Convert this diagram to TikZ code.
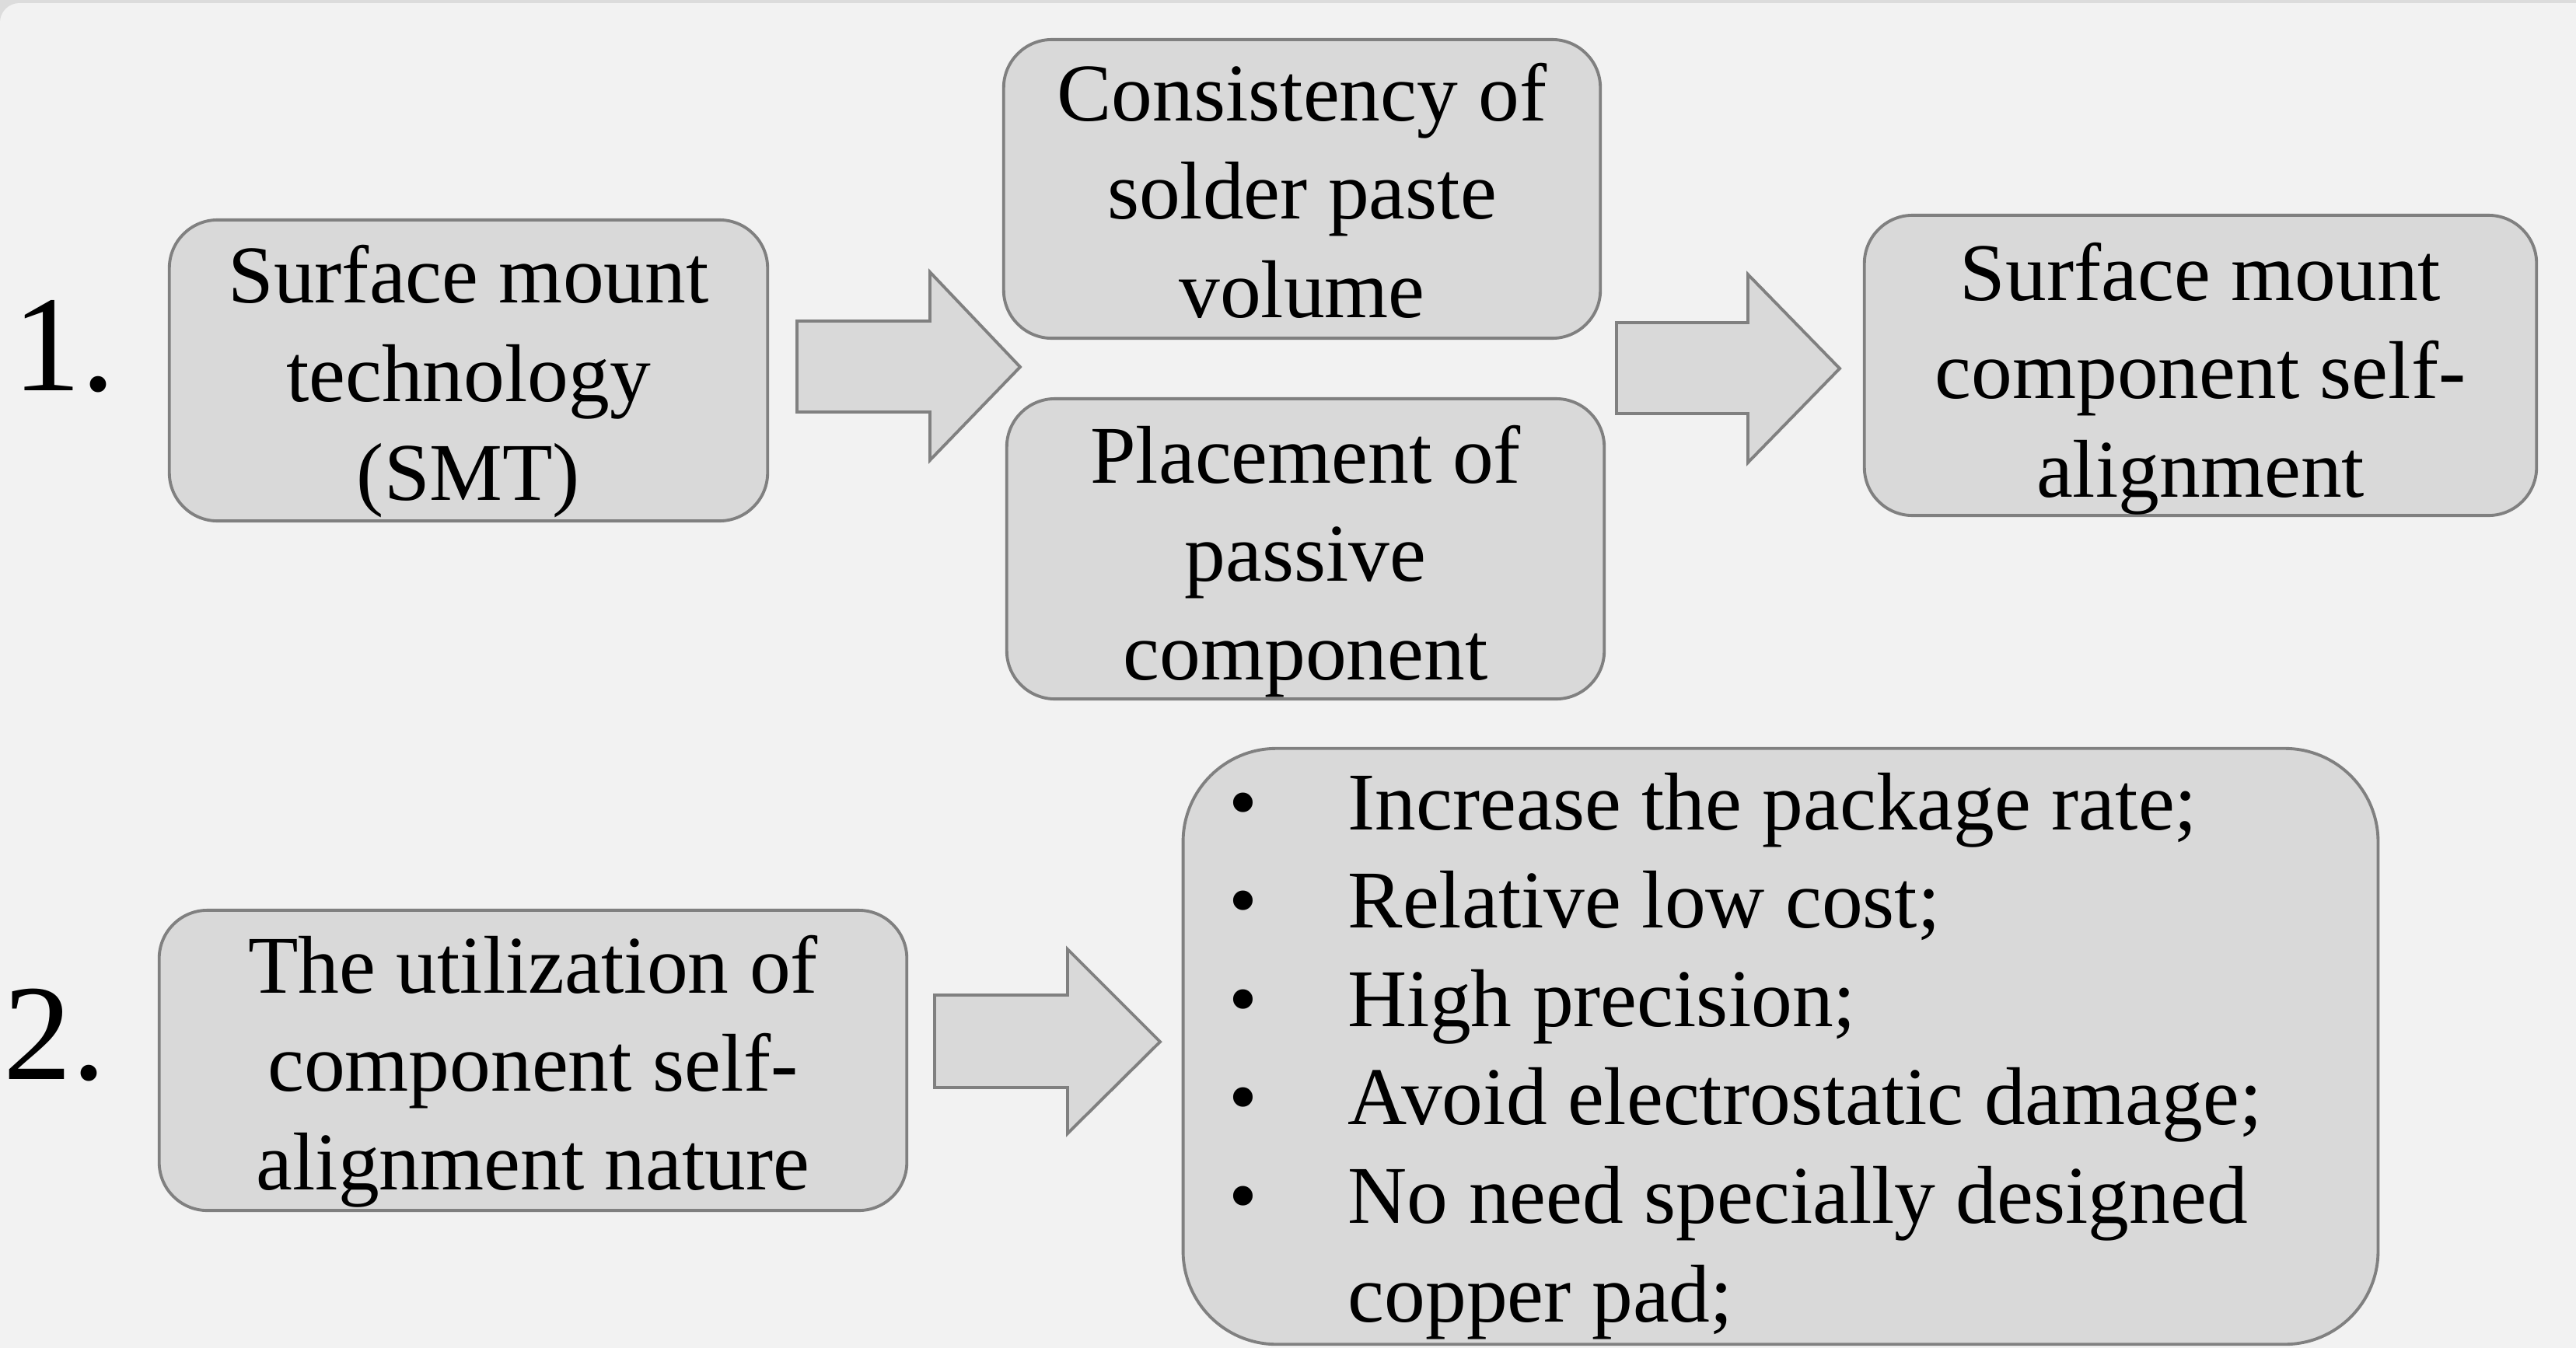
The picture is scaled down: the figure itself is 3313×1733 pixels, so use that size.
\documentclass[tikz,border=0pt]{standalone}
\usepackage{fontspec}
\setmainfont{Liberation Serif}
\definecolor{bg}{HTML}{F2F2F2}
\definecolor{frame}{HTML}{DCDCDC}
\definecolor{boxfill}{HTML}{D9D9D9}
\definecolor{boxline}{HTML}{808080}
\begin{document}
\begin{tikzpicture}[x=0.01cm,y=-0.01cm,
  box/.style={draw=boxline, fill=boxfill, line width=1.1pt, rounded corners=0.62cm, inner sep=0pt},
  bigbox/.style={box, rounded corners=1.2cm},
  txt/.style={align=center, inner sep=0pt, font=\fontsize{30}{36}\selectfont},
  barrow/.style={draw=boxline, fill=boxfill, line width=1.1pt, line join=miter},
  numlabel/.style={anchor=base west, inner sep=0pt, font=\fontsize{50}{60}\selectfont}]
\useasboundingbox (0,0) rectangle (3313,1733);
\fill[frame] (0,0) rectangle (3313,1733);
\fill[bg, rounded corners=0.25cm] (0,4) rectangle (3363,1783);

% row 1
\node[numlabel] (n1) at (16,502) {1.};
\node[box, minimum width=7.69cm, minimum height=3.87cm] (A) at (602.5,476.5) {};
\node[txt] (At) at ([yshift=-0.14cm]A.center) {Surface mount\\technology\\(SMT)};
\node[box, minimum width=7.67cm, minimum height=3.84cm] (B) at (1674.5,243) {};
\node[txt] (Bt) at ([yshift=-0.02cm]B.center) {Consistency of\\solder paste\\volume};
\node[box, minimum width=7.68cm, minimum height=3.86cm] (C) at (1679,706) {};
\node[txt] (Ct) at ([yshift=-0.16cm]C.center) {Placement of\\passive\\component};
\node[box, minimum width=8.64cm, minimum height=3.86cm] (D) at (2830,470) {};
\node[txt] (Dt) at ([yshift=-0.17cm]D.center) {Surface mount\\component self-\\alignment};

\draw[barrow] (1025,413) -- (1196,413) -- (1196,350) -- (1312,472) -- (1196,592) -- (1196,530) -- (1025,530) -- cycle;
\draw[barrow] (2079,415) -- (2248,415) -- (2248,353) -- (2366,474) -- (2248,595) -- (2248,532) -- (2079,532) -- cycle;

% row 2
\node[numlabel] (n2) at (4,1388) {2.};
\node[box, minimum width=9.61cm, minimum height=3.86cm] (E) at (685.5,1364) {};
\node[txt] (Et) at ([yshift=-0.14cm]E.center) {The utilization of\\component self-\\alignment nature};
\draw[barrow] (1202,1280) -- (1373,1280) -- (1373,1221) -- (1492,1340) -- (1373,1458) -- (1373,1399) -- (1202,1399) -- cycle;

\node[bigbox, minimum width=15.36cm, minimum height=7.66cm] (F) at (2290,1346) {};
\node[anchor=base west, inner sep=0pt, font=\fontsize{30}{36}\selectfont] (Ft) at (1580,1067)
  {\begin{tabular}[t]{@{}p{1.53cm}@{}l@{}}
   \textbullet & Increase the package rate;\\
   \textbullet & Relative low cost;\\
   \textbullet & High precision;\\
   \textbullet & Avoid electrostatic damage;\\
   \textbullet & No need specially designed\\
               & copper pad;
   \end{tabular}};
\end{tikzpicture}
\end{document}
